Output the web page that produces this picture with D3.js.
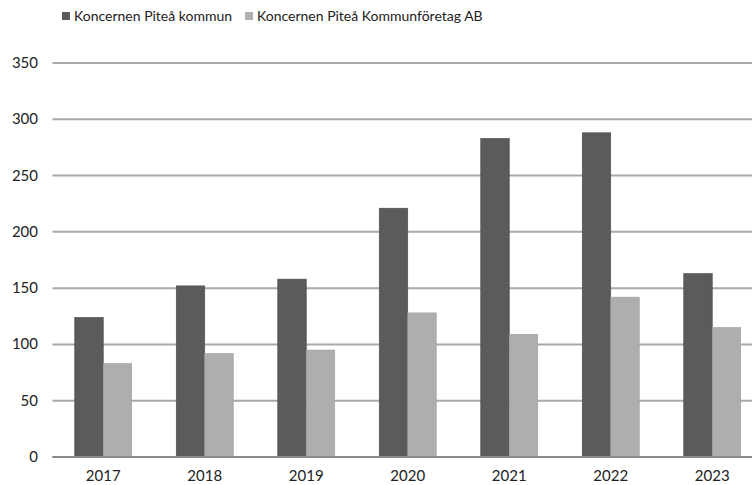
<!DOCTYPE html>
<html>
<head>
<meta charset="utf-8">
<script src="https://cdn.jsdelivr.net/npm/d3@7"></script>
<style>
  body { margin: 0; background: #fff; }
  svg { display: block; font-family: "Gill Sans", Lato, "Open Sans", sans-serif; }
</style>
</head>
<body>
<script>
// data
const years = ["2017", "2018", "2019", "2020", "2021", "2022", "2023"];
const seriesNames = ["Koncernen Piteå kommun", "Koncernen Piteå Kommunföretag AB"];
const kommun = [124, 152, 158, 221, 283, 288, 163];
const foretag = [83, 92, 95, 128, 109, 142, 115];
const yTicks = [0, 50, 100, 150, 200, 250, 300, 350];

const colors = ["#5b5b5b", "#aeaeae"];

makeChart();

function makeChart() {
    const width = 752, height = 485;
    const left = 52.5, right = 763, top = 63, bottom = 457; // plot runs past right edge like the original

    const svg = d3.select("body").append("svg")
        .attr("width", width)
        .attr("height", height);

    const x = d3.scaleBand().domain(years).range([left, right]).paddingInner(0).paddingOuter(0);
    const inner = d3.scaleBand().domain([0, 1]).range([0, 57]);
    const y = d3.scaleLinear().domain([0, 350]).range([bottom, top]);

    // gridlines
    svg.append("g")
        .selectAll("line")
        .data(yTicks)
        .join("line")
        .attr("x1", left).attr("x2", width)
        .attr("y1", d => y(d)).attr("y2", d => y(d))
        .attr("stroke", "#a9a9a9")
        .attr("stroke-width", 2);

    // y labels
    svg.append("g")
        .selectAll("text")
        .data(yTicks)
        .join("text")
        .attr("x", 38)
        .attr("y", d => y(d) + 5)
        .attr("text-anchor", "end")
        .attr("font-size", 15)
        .attr("fill", "#222")
        .text(d => d);

    // bars
    const data = [kommun, foretag];
    data.forEach((vals, s) => {
        svg.append("g")
            .selectAll("rect")
            .data(vals)
            .join("rect")
            .attr("x", (d, i) => x(years[i]) + x.bandwidth() / 2 - 28.5 + inner(s))
            .attr("y", d => y(d))
            .attr("width", inner.bandwidth())
            .attr("height", d => bottom - y(d))
            .attr("fill", colors[s])
            .attr("stroke", s === 0 ? "#4a4a4a" : "#9e9e9e")
            .attr("stroke-width", 0.6);
    });

    // zero line
    svg.append("line")
        .attr("x1", left).attr("x2", width)
        .attr("y1", bottom).attr("y2", bottom)
        .attr("stroke", "#8a8a8a")
        .attr("stroke-width", 2);

    // x labels
    svg.append("g")
        .selectAll("text")
        .data(years)
        .join("text")
        .attr("x", d => x(d) + x.bandwidth() / 2)
        .attr("y", 481)
        .attr("text-anchor", "middle")
        .attr("font-size", 15)
        .attr("fill", "#222")
        .text(d => d);

    // legend
    const legX = [62, 245];
    seriesNames.forEach((name, s) => {
        const g = svg.append("g").attr("transform", `translate(${legX[s]},12)`);
        g.append("rect").attr("width", 8).attr("height", 8).attr("fill", colors[s]);
        g.append("text")
            .attr("x", 12).attr("y", 8.5)
            .attr("font-size", 14)
            .attr("fill", "#222")
            .text(name);
    });

    return svg.node();
}
</script>
</body>
</html>
